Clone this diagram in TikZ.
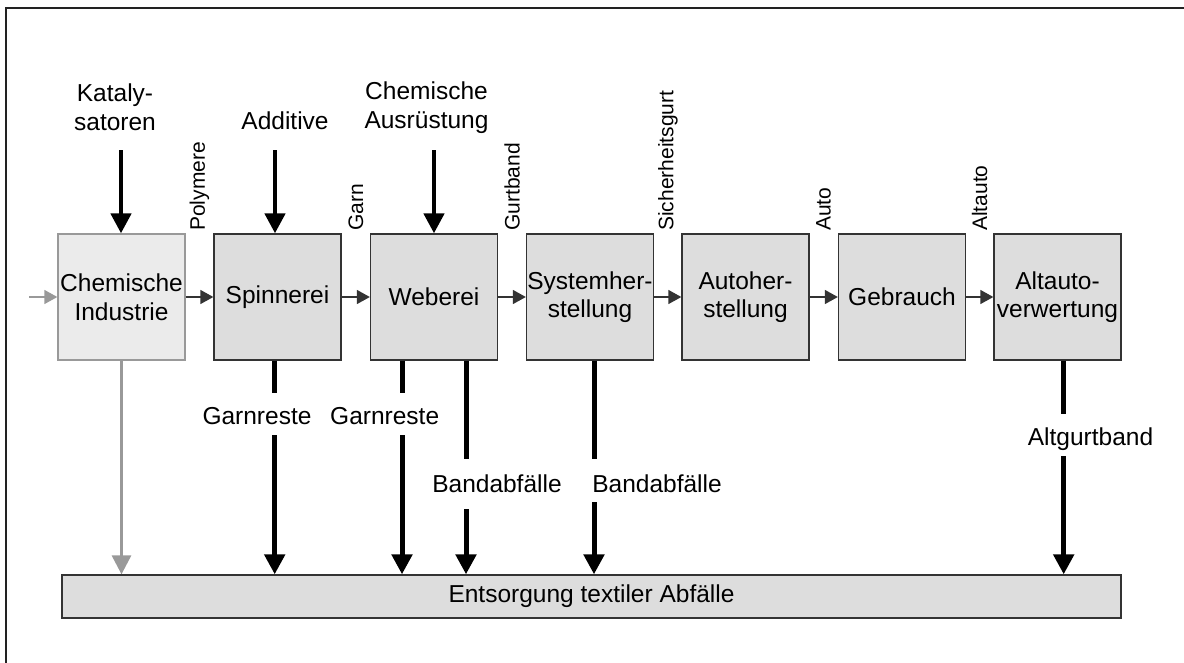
\documentclass[tikz,border=0pt]{standalone}
\usepackage{fontspec}
\setmainfont{Liberation Sans}
\usetikzlibrary{arrows.meta}
\definecolor{boxfill}{HTML}{DDDDDD}
\definecolor{chemfill}{HTML}{EBEBEB}
\definecolor{boxline}{HTML}{333333}
\definecolor{greyline}{HTML}{999999}
\definecolor{frameline}{HTML}{222222}
\begin{document}
\begin{tikzpicture}[x=1pt,y=-1pt,
  font=\fontsize{24.5}{28.5}\selectfont,
  stage/.style={draw=boxline,fill=boxfill,line width=1.3pt,minimum width=127pt,
    minimum height=126pt,align=center,inner sep=0pt},
  chemstage/.style={stage,draw=greyline,fill=chemfill},
  flow/.style={-{Triangle[length=13pt,width=14pt]},line width=1.3pt,draw=boxline},
  supply/.style={-{Triangle[length=20pt,width=20pt]},line width=4.5pt},
  waste/.style={line width=5pt},
  wastetip/.style={waste,-{Triangle[length=20pt,width=20pt]}},
  prodlabel/.style={rotate=90,anchor=west,font=\fontsize{21}{24}\selectfont,inner sep=0pt},
  lbl/.style={anchor=base,inner sep=0pt},
  inlbl/.style={align=center,inner sep=0pt},
]
\useasboundingbox (0,0) rectangle (1184,662);
\clip (0,0) rectangle (1184,662);

% outer frame (runs past the right and bottom edge)
\draw[line width=2pt,draw=frameline] (6,8) rectangle (1196,676);

% process chain
\node[chemstage] (chem) at (121.5,297) {Chemische\\Industrie};
\node[stage] (spin) at (277.5,297) {Spinnerei};
\node[stage] (web)  at (434,297)   {Weberei};
\node[stage] (sys)  at (590,297)   {Systemher-\\stellung};
\node[stage] (auto) at (745.5,297) {Autoher-\\stellung};
\node[stage] (use)  at (902,297)   {Gebrauch};
\node[stage] (alt)  at (1057.5,297) {Altauto-\\verwertung};

% disposal bar
\node[stage,minimum width=1059pt,minimum height=43pt] (bar) at (591.5,596.5)
  {Entsorgung textiler Abf\"alle};

% main material flow
\coordinate (feed) at (29,297);
\draw[flow,draw=greyline] (feed) -- (chem);
\draw[flow] (chem) -- (spin);
\draw[flow] (spin) -- (web);
\draw[flow] (web) -- (sys);
\draw[flow] (sys) -- (auto);
\draw[flow] (auto) -- (use);
\draw[flow] (use) -- (alt);

% product names between the stages
\node[prodlabel] (pPoly) at (199.5,231) {Polymere};
\node[prodlabel] (pGarn) at (356,231)   {Garn};
\node[prodlabel] (pGurt) at (512,231)   {Gurtband};
\node[prodlabel] (pSich) at (668,231)   {Sicherheitsgurt};
\node[prodlabel] (pAuto) at (823.5,231) {Auto};
\node[prodlabel] (pAlt)  at (979.5,231) {Altauto};

% auxiliary inputs
\node[inlbl] (tKat) at (115,107) {Kataly-\\satoren};
\node[inlbl] (tAdd) at (285,107) {\vphantom{K}\\Additive};
\node[inlbl] (tAus) at (426.5,107.5) {Chemische\\Ausr\"ustung};
\coordinate (sKat) at (121,150);
\coordinate (sAdd) at (275,150);
\coordinate (sAus) at (434,150);
\draw[supply] (sKat) -- (sKat |- chem.north);
\draw[supply] (sAdd) -- (sAdd |- spin.north);
\draw[supply] (sAus) -- (sAus |- web.north);

% waste streams
\draw[-{Triangle[length=19pt,width=19pt]},line width=3pt,draw=greyline]
  (chem.south) -- (chem.south |- bar.north);

\coordinate (g1a) at (274.7,393); \coordinate (g1b) at (274.7,435);
\draw[waste] (g1a |- spin.south) -- (g1a);
\draw[wastetip] (g1b) -- (g1b |- bar.north);
\node[lbl] (lG1) at (257,424) {Garnreste};

\coordinate (g2a) at (402,393); \coordinate (g2b) at (402,435);
\draw[waste] (g2a |- web.south) -- (g2a);
\draw[wastetip] (g2b) -- (g2b |- bar.north);
\node[lbl] (lG2) at (384.7,424) {Garnreste};

\coordinate (b1a) at (466,459); \coordinate (b1b) at (466,509);
\draw[waste] (b1a |- web.south) -- (b1a);
\draw[wastetip] (b1b) -- (b1b |- bar.north);
\node[lbl] (lB1) at (497,492) {Bandabf\"alle};

\coordinate (b2a) at (594,459); \coordinate (b2b) at (594,502);
\draw[waste] (b2a |- sys.south) -- (b2a);
\draw[wastetip] (b2b) -- (b2b |- bar.north);
\node[lbl] (lB2) at (657,492) {Bandabf\"alle};

\coordinate (a1a) at (1063.7,414); \coordinate (a1b) at (1063.7,456);
\draw[waste] (a1a |- alt.south) -- (a1a);
\draw[wastetip] (a1b) -- (a1b |- bar.north);
\node[lbl] (lA) at (1090.5,445) {Altgurtband};
\end{tikzpicture}
\end{document}
